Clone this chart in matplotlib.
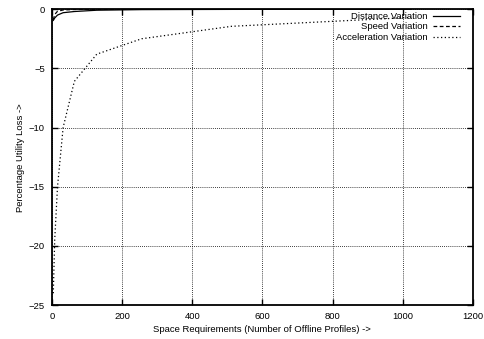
import numpy as np
import matplotlib.pyplot as plt
from matplotlib.patches import Rectangle

# offline profiles (powers of two) and utility loss in percent
profiles = [4, 8, 16, 32, 64, 128, 256, 512, 1024]
distance = [-0.95, -0.75, -0.5, -0.3, -0.2, -0.09, -0.04, -0.02, -0.01]
speed = [-0.9, -0.45, -0.18, -0.07, -0.03, -0.01, -0.005, 0.0, 0.0]
acceleration = [-24.0, -19.5, -15.0, -10.0, -6.1, -3.8, -2.5, -1.45, -0.7]

labels = ["Distance Variation", "Speed Variation", "Acceleration Variation"]
styles = ["-", (0, (3, 2)), (0, (1, 2))]

plt.rcParams['font.family'] = ['Liberation Sans', 'DejaVu Sans']
plt.rcParams['font.size'] = 6.8

fig = plt.figure(figsize=(4.85, 3.39), dpi=100)
ax = fig.add_axes([0.107, 0.100, 0.868, 0.873])

series = [distance, speed, acceleration]
for ys, st in zip(series, styles):
    ax.plot(profiles, ys, color='black', linestyle=st, linewidth=0.9, zorder=3)

ax.set_xlim(0, 1200)
ax.set_ylim(-25, 0)
ax.set_xticks(np.arange(0, 1201, 200))
ax.set_yticks(np.arange(-25, 1, 5))
ax.grid(True, color='black', linestyle=(0, (1, 1.5)), linewidth=0.6)
ax.tick_params(direction='in', length=4, top=True, right=True, width=1, pad=5)
for s in ax.spines.values():
    s.set_linewidth(1.3)
    s.set_zorder(5)

ax.set_xlabel("Space Requirements (Number of Offline Profiles) ->", labelpad=3)
ax.set_ylabel("Percentage Utility Loss ->", labelpad=3)

# gnuplot style key: text right aligned, sample to the right
ax.add_patch(Rectangle((0.6, 0.895), 0.4, 0.105, transform=ax.transAxes,
                       facecolor='white', edgecolor='none', zorder=1))
rows = [0.976, 0.943, 0.905]
for lab, st, yy in zip(labels, styles, rows):
    ax.text(0.893, yy, lab, transform=ax.transAxes, ha='right', va='center', zorder=4)
    ax.plot([0.905, 0.969], [yy, yy], transform=ax.transAxes, color='black',
            linestyle=st, linewidth=0.9, zorder=4)

fig.savefig("out.png", dpi=100)
